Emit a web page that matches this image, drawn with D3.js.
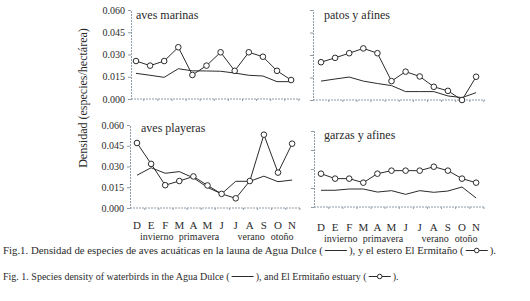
<!DOCTYPE html>
<html>
<head>
<meta charset="utf-8">
<script src="https://cdn.jsdelivr.net/npm/d3@7"></script>
<style>
  body { margin: 0; background: #fff; }
  svg { display: block; font-family: "Liberation Serif", "DejaVu Serif", serif; }
</style>
</head>
<body>
<div class="container"></div>
<script>
const months = ["D", "E", "F", "M", "A", "M", "J", "J", "A", "S", "O", "N"];
const seasons = ["invierno", "primavera", "verano", "otoño"];
const seasonAt = [1.4, 4.4, 8.1, 10.3]; // month index under which each season label sits
const yTicks = [0, 0.015, 0.030, 0.045, 0.060];

// Agua Dulce (plain line) and El Ermitaño (line with circles)
const marinasDulce    = [0.0173, 0.0160, 0.0146, 0.0204, 0.0190, 0.0189, 0.0187, 0.0175, 0.0160, 0.0155, 0.0117, 0.0117];
const marinasErmitano = [0.0256, 0.0225, 0.0256, 0.0349, 0.0162, 0.0225, 0.0315, 0.0190, 0.0315, 0.0285, 0.0190, 0.0128];
const patosDulce      = [0.0126, 0.0140, 0.0153, 0.0126, 0.0110, 0.0096, 0.0056, 0.0056, 0.0056, 0.0027, 0.0016, 0.0049];
const patosErmitano   = [0.0252, 0.0281, 0.0312, 0.0344, 0.0312, 0.0126, 0.0189, 0.0157, 0.0088, 0.0061, 0.0000, 0.0155];
const playerasDulce   = [0.0237, 0.0291, 0.0251, 0.0263, 0.0218, 0.0149, 0.0102, 0.0193, 0.0193, 0.0230, 0.0190, 0.0202];
const playerasErmitano= [0.0470, 0.0319, 0.0165, 0.0195, 0.0228, 0.0163, 0.0102, 0.0070, 0.0195, 0.0530, 0.0256, 0.0465];
const garzasDulce     = [0.0132, 0.0132, 0.0142, 0.0142, 0.0118, 0.0129, 0.0100, 0.0129, 0.0116, 0.0126, 0.0158, 0.0071];
const garzasErmitano  = [0.0263, 0.0224, 0.0224, 0.0192, 0.0263, 0.0287, 0.0287, 0.0287, 0.0318, 0.0287, 0.0224, 0.0192];

const width = 530, height = 301;
const ink = "#2b2b2b";
const axisColor = "#8f9ca6";

// one entry per panel: where its axes sit on the page (scanned figure, so they differ a little)
const panels = [
  { title: "aves marinas",   dulce: marinasDulce,  erm: marinasErmitano,  x0: 136, ax: 131, top: 10,  bottom: 99,  tx: 136, ty: 19,  yLabels: true,  xLabels: false },
  { title: "patos y afines", dulce: patosDulce,    erm: patosErmitano,    x0: 321, ax: 313, top: 10,  bottom: 100, tx: 324, ty: 19,  yLabels: false, xLabels: false },
  { title: "aves playeras",  dulce: playerasDulce, erm: playerasErmitano, x0: 137, ax: 130, top: 125, bottom: 208, tx: 141, ty: 132, yLabels: true,  xLabels: true, my: 229, sy: 240 },
  { title: "garzas y afines",dulce: garzasDulce,   erm: garzasErmitano,   x0: 321, ax: 314, top: 131, bottom: 207, tx: 324, ty: 139, yLabels: false, xLabels: true, my: 231, sy: 242 }
];
const step = 14.1;

const svg = d3.select(".container").append("svg")
  .attr("width", width)
  .attr("height", height);

panels.forEach(p => {
  const x = d3.scaleLinear().domain([0, 11]).range([p.x0, p.x0 + 11 * step]);
  const y = d3.scaleLinear().domain([0, 0.060]).range([p.bottom, p.top]);
  const g = svg.append("g");

  // y axis
  const yAxis = d3.axisLeft(y).tickValues(yTicks).tickSize(3).tickPadding(3)
    .tickFormat(p.yLabels ? d3.format(".3f") : "");
  g.append("g").attr("transform", `translate(${p.ax},0)`).call(yAxis)
    .call(a => a.select(".domain").attr("stroke", axisColor).attr("stroke-dasharray", "2,1"))
    .call(a => a.selectAll(".tick line").attr("stroke", axisColor))
    .call(a => a.selectAll(".tick text").attr("fill", ink).style("font-size", "10px")
      .style("font-family", "Liberation Serif, serif"));

  // x axis: small ticks between months
  const xEnd = x(11) + 9;
  g.append("line")
    .attr("x1", p.ax).attr("x2", xEnd)
    .attr("y1", p.bottom).attr("y2", p.bottom)
    .attr("stroke", axisColor).attr("stroke-dasharray", "2,1");
  g.append("g").selectAll("line")
    .data(d3.range(0, 12))
    .join("line")
    .attr("x1", d => x(d + 0.55)).attr("x2", d => x(d + 0.55))
    .attr("y1", p.bottom).attr("y2", p.bottom + 2)
    .attr("stroke", axisColor);

  // panel title
  g.append("text")
    .attr("x", p.tx).attr("y", p.ty)
    .attr("fill", ink)
    .style("font-size", "12px")
    .text(p.title);

  const line = d3.line().x((d, i) => x(i)).y(d => y(d));

  // Agua Dulce
  g.append("path")
    .datum(p.dulce)
    .attr("d", line)
    .attr("fill", "none")
    .attr("stroke", ink)
    .attr("stroke-width", 1);

  // El Ermitaño
  g.append("path")
    .datum(p.erm)
    .attr("d", line)
    .attr("fill", "none")
    .attr("stroke", ink)
    .attr("stroke-width", 1);
  g.append("g").selectAll("circle")
    .data(p.erm)
    .join("circle")
    .attr("cx", (d, i) => x(i))
    .attr("cy", d => y(d))
    .attr("r", 2.8)
    .attr("fill", "#fff")
    .attr("stroke", ink)
    .attr("stroke-width", 1);

  if (p.xLabels) {
    g.append("g").selectAll("text")
      .data(months)
      .join("text")
      .attr("x", (d, i) => x(i))
      .attr("y", p.my)
      .attr("text-anchor", "middle")
      .attr("fill", ink)
      .style("font-size", "11px")
      .text(d => d);
    g.append("g").selectAll("text")
      .data(seasons)
      .join("text")
      .attr("x", (d, i) => x(seasonAt[i]))
      .attr("y", p.sy)
      .attr("text-anchor", "middle")
      .attr("fill", ink)
      .style("font-size", "10px")
      .text(d => d);
  }
});

// shared y axis title
svg.append("text")
  .attr("transform", "translate(87,98) rotate(-90)")
  .attr("text-anchor", "middle")
  .attr("fill", ink)
  .style("font-size", "12px")
  .text("Densidad (especies/hectárea)");

// captions with little legend glyphs drawn in the gaps
function caption(parts, yBase, size) {
  let cx = 3;
  parts.forEach(part => {
    if (typeof part === "string") {
      const t = svg.append("text")
        .attr("x", cx).attr("y", yBase)
        .attr("fill", ink)
        .style("font-size", size + "px")
        .text(part);
      cx += t.node().getComputedTextLength();
    } else {
      const w = 26;
      svg.append("line")
        .attr("x1", cx + 2).attr("x2", cx + w - 2)
        .attr("y1", yBase - 3.5).attr("y2", yBase - 3.5)
        .attr("stroke", ink).attr("stroke-width", 1);
      if (part.circle) {
        svg.append("circle")
          .attr("cx", cx + w / 2).attr("cy", yBase - 3.5).attr("r", 2.3)
          .attr("fill", "#fff").attr("stroke", ink);
      }
      cx += w;
    }
  });
}

caption(["Fig.1. Densidad de especies de aves acuáticas en la launa de Agua Dulce (", { circle: false },
         "), y el estero El Ermitaño (", { circle: true }, ")."], 254, 10.8);
caption(["Fig. 1. Species density of waterbirds in the Agua Dulce (", { circle: false },
         "), and El Ermitaño estuary ( ", { circle: true }, " )."], 280, 10);
</script>
</body>
</html>
